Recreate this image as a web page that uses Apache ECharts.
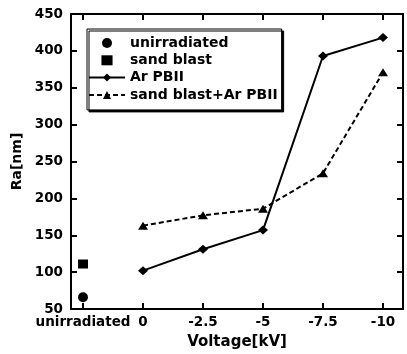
<!DOCTYPE html>
<html>
<head>
<meta charset="utf-8">
<script src="https://cdn.jsdelivr.net/npm/echarts@6/dist/echarts.min.js"></script>
<style>
  html, body { margin: 0; padding: 0; background: #fff; }
  #chart { width: 407px; height: 354px; }
</style>
</head>
<body>
<div id="chart"></div>
<script>
// Surface roughness Ra versus applied pulse voltage
const categories = ['unirradiated', '0', '-2.5', '-5', '-7.5', '-10'];
const yMin = 50, yMax = 450, yStep = 50;

const unirradiated = [66];          // at "unirradiated"
const sandBlast = [111];            // at "unirradiated"
const arPbii = [102, 131, 157, 393, 418];        // 0 .. -10 kV
const sandBlastArPbii = [163, 177, 186, 234, 371]; // 0 .. -10 kV

const FONT = 'DejaVu Sans';
const toPairs = (vals, start) => vals.map((v, i) => [start + i, v]);

const chart = echarts.init(document.getElementById('chart'), null, { renderer: 'canvas' });

const BLACK = '#000';
const line2 = { show: true, onZero: false, lineStyle: { color: BLACK, width: 2 } };
const noLine = { show: false, onZero: false };
const tickIn = { show: true, inside: true, length: 6, lineStyle: { color: BLACK, width: 2 } };
const labelFont = { fontFamily: FONT, fontWeight: 'bold', fontSize: 13.5, color: BLACK };

chart.setOption({
  animation: false,
  backgroundColor: '#fff',
  grid: [
    // plotting area: spans the first to the last category
    { left: 83, right: 24, top: 14, bottom: 45, outerBoundsMode: 'none' },
    // frame: the full box with the y scale
    { left: 71, right: 4, top: 14, bottom: 45, outerBoundsMode: 'none' }
  ],
  xAxis: [
    {
      gridIndex: 0, type: 'value', position: 'bottom', min: 0, max: 5, interval: 1,
      axisLine: noLine, axisTick: tickIn, splitLine: { show: false },
      axisLabel: Object.assign({ margin: 6, formatter: v => categories[Math.round(v)] }, labelFont)
    },
    {
      gridIndex: 0, type: 'value', position: 'top', min: 0, max: 5, interval: 1,
      axisLine: noLine, axisTick: tickIn, splitLine: { show: false },
      axisLabel: { show: false }
    },
    {
      gridIndex: 1, type: 'value', position: 'bottom', min: 0, max: 1,
      name: 'Voltage[kV]', nameLocation: 'middle', nameGap: 26,
      nameTextStyle: { fontFamily: FONT, fontWeight: 'bold', fontSize: 15, color: BLACK },
      axisLine: line2, axisTick: { show: false }, axisLabel: { show: false },
      splitLine: { show: false }
    },
    {
      gridIndex: 1, type: 'value', position: 'top', min: 0, max: 1,
      axisLine: line2, axisTick: { show: false }, axisLabel: { show: false },
      splitLine: { show: false }
    }
  ],
  yAxis: [
    {
      gridIndex: 0, type: 'value', min: yMin, max: yMax, interval: yStep, show: false
    },
    {
      gridIndex: 1, type: 'value', position: 'left', min: yMin, max: yMax, interval: yStep,
      name: 'Ra[nm]', nameLocation: 'middle', nameGap: 47,
      nameTextStyle: { fontFamily: FONT, fontWeight: 'bold', fontSize: 14, color: BLACK },
      axisLine: line2, axisTick: tickIn, splitLine: { show: false },
      axisLabel: Object.assign({ margin: 8 }, labelFont)
    },
    {
      gridIndex: 1, type: 'value', position: 'right', min: yMin, max: yMax, interval: yStep,
      axisLine: line2, axisTick: tickIn, splitLine: { show: false },
      axisLabel: { show: false }
    }
  ],
  legend: {
    orient: 'vertical', left: 87, top: 29,
    padding: [7, 4, 8, 1],
    itemWidth: 36, itemHeight: 10, itemGap: 3.3,
    backgroundColor: '#fff', borderColor: BLACK, borderWidth: 1,
    shadowColor: BLACK, shadowBlur: 0, shadowOffsetX: 2, shadowOffsetY: 2,
    textStyle: { fontFamily: FONT, fontWeight: 'bold', fontSize: 14, color: BLACK, lineHeight: 14 },
    data: [
      'unirradiated',
      { name: 'sand blast', icon: 'path://M0,0L10,0L10,9L0,9Z' },
      'Ar PBII',
      'sand blast+Ar PBII'
    ]
  },
  series: [
    {
      name: 'unirradiated', type: 'scatter', xAxisIndex: 0, yAxisIndex: 0, clip: false,
      symbol: 'circle', symbolSize: 10,
      itemStyle: { color: BLACK, opacity: 1 },
      data: toPairs(unirradiated, 0)
    },
    {
      name: 'sand blast', type: 'scatter', xAxisIndex: 0, yAxisIndex: 0, clip: false,
      symbol: 'rect', symbolSize: [10, 9],
      itemStyle: { color: BLACK, opacity: 1 },
      data: toPairs(sandBlast, 0)
    },
    {
      name: 'Ar PBII', type: 'line', xAxisIndex: 0, yAxisIndex: 0, clip: false,
      symbol: 'diamond', symbolSize: [10, 9],
      lineStyle: { color: BLACK, width: 2 },
      itemStyle: { color: BLACK },
      data: toPairs(arPbii, 1)
    },
    {
      name: 'sand blast+Ar PBII', type: 'line', xAxisIndex: 0, yAxisIndex: 0, clip: false,
      symbol: 'triangle', symbolSize: [10, 8],
      lineStyle: { color: BLACK, width: 2, type: [5, 3] },
      itemStyle: { color: BLACK },
      data: toPairs(sandBlastArPbii, 1)
    }
  ]
});
</script>
</body>
</html>
